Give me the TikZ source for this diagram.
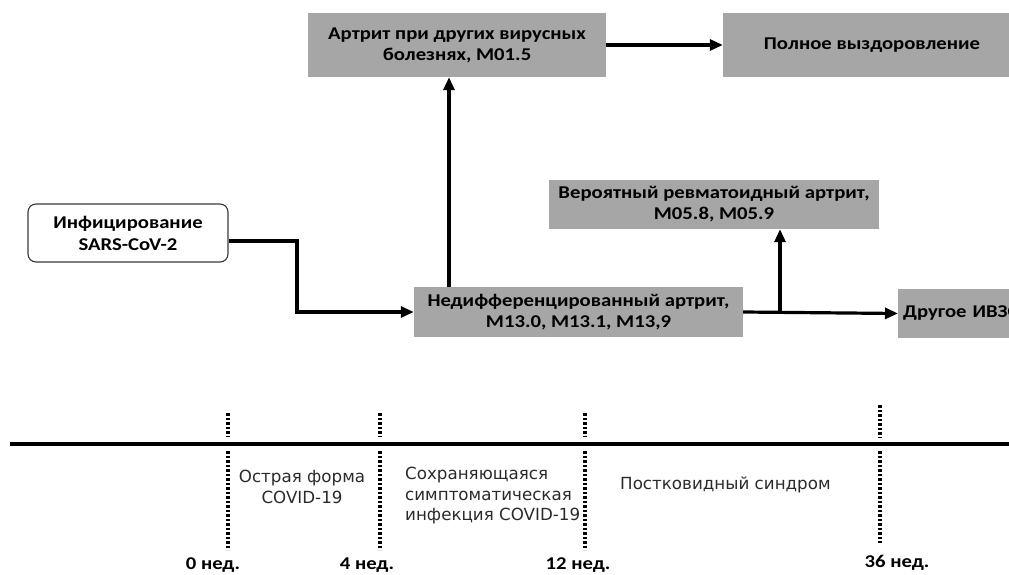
\documentclass[tikz,border=0pt]{standalone}
\usepackage{fontspec}
\setmainfont{Carlito}[FakeStretch=1.15]
\newfontfamily\tlfont{DejaVu Sans}
\usetikzlibrary{arrows.meta}
\definecolor{boxgray}{HTML}{A6A6A6}
\definecolor{edgegray}{HTML}{3A3A3A}
\definecolor{tltext}{HTML}{2A2A2A}
\begin{document}
\begin{tikzpicture}[x=1pt,y=-1pt,
  box/.style={fill=boxgray, draw=none, inner sep=0pt, align=center,
    font=\bfseries\fontsize{18}{21}\selectfont},
  startbox/.style={fill=white, draw=edgegray, line width=1.1pt, rounded corners=8pt,
    inner sep=0pt, align=center, font=\bfseries\fontsize{18}{22}\selectfont},
  conn/.style={line width=3.2pt, -{Triangle[length=13pt,width=11pt]}},
  timeline/.style={line width=3.2pt},
  tick/.style={line width=3.3pt, dash pattern=on 2.8pt off 1.7pt},
  weeklabel/.style={inner sep=0pt, font=\bfseries\fontsize{18}{21}\selectfont},
  phase/.style={inner sep=0pt, text=tltext, font=\tlfont\fontsize{16.7}{20.5}\selectfont}
]
\useasboundingbox (0,0) rectangle (1009,575);
\clip (0,0) rectangle (1009,575);

% boxes
\node[box, minimum width=298pt, minimum height=64pt] (virus) at (457,45)
  {Артрит при других вирусных\\болезнях, M01.5};
\node[box, minimum width=298pt, minimum height=64pt] (recov) at (872,45)
  {Полное выздоровление};
\node[startbox, minimum width=200pt, minimum height=58pt] (infect) at (128,233)
  {Инфицирование\\SARS-CoV-2};
\node[box, minimum width=329pt, minimum height=50pt] (undiff) at (578.5,312)
  {Недифференцированный артрит,\\M13.0, M13.1, M13,9};
\node[box, minimum width=330pt, minimum height=49pt] (ra) at (714,204.5)
  {Вероятный ревматоидный артрит,\\M05.8, M05.9};
\node[box, anchor=west, minimum height=49pt, text width=192pt, align=left,
  inner xsep=5pt] (other) at (898,313.5) {Другое ИВЗС};

% connectors
\coordinate (bendx) at (297,0);
\coordinate (upx) at (449,0);
\coordinate (rax) at (780,0);
\draw[conn] ([yshift=-8pt]infect.east) -| (bendx |- undiff.west) -- (undiff.west);
\draw[conn] (virus.east) -- (recov.west);
\draw[conn] (upx |- undiff.north) -- (upx |- virus.south);
\draw[conn] (undiff.east) -- (other.west);
\draw[conn] (rax |- undiff.east) -- (rax |- ra.south);

% timeline
\coordinate (tlstart) at (10,444);
\coordinate (tlend) at (1009,444);
\draw[timeline] (tlstart) -- (tlend);

\draw[tick] (228,413) -- (228,437);
\draw[tick] (228,451) -- (228,550);
\draw[tick] (380,413) -- (380,437);
\draw[tick] (380,451) -- (380,550);
\draw[tick] (585,413) -- (585,437);
\draw[tick] (585,451) -- (585,550);
\draw[tick] (880,405) -- (880,437);
\draw[tick] (880,451) -- (880,543);

\node[weeklabel] (w0) at (213,565) {0 нед.};
\node[weeklabel] (w4) at (367,565) {4 нед.};
\node[weeklabel] (w12) at (578,565) {12 нед.};
\node[weeklabel] (w36) at (897,563) {36 нед.};

\node[phase, align=center] (acute) at (302,487) {Острая форма\\COVID-19};
\node[phase, align=left, anchor=west] (persist) at (405,496)
  {Сохраняющаяся\\симптоматическая\\инфекция COVID-19};
\node[phase, anchor=west] (post) at (620,485) {Постковидный синдром};
\end{tikzpicture}
\end{document}
